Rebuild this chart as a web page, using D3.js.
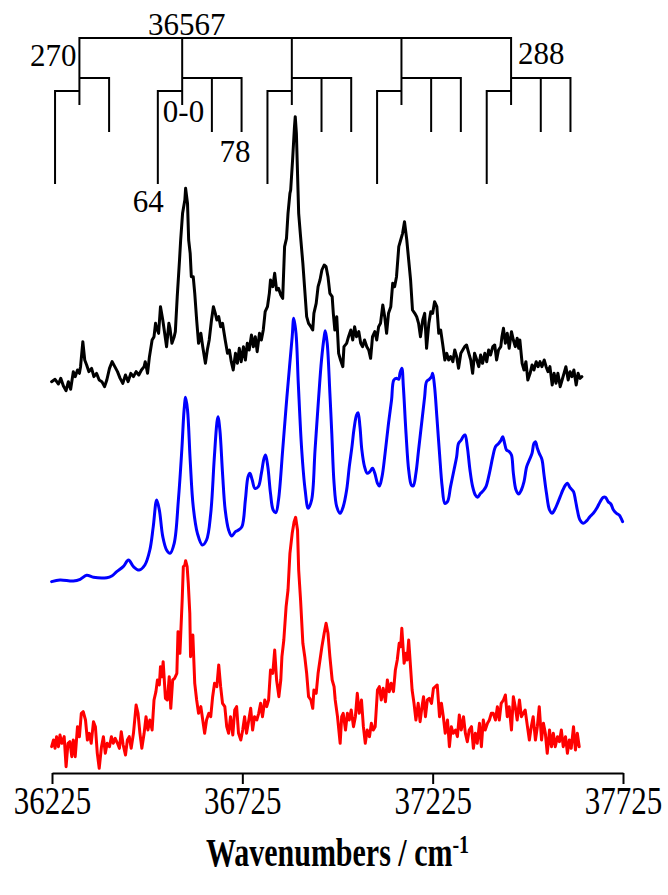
<!DOCTYPE html>
<html>
<head>
<meta charset="utf-8">
<script src="https://cdn.jsdelivr.net/npm/d3@7"></script>
<style>
  html, body { margin: 0; padding: 0; background: #fff; }
  svg { display: block; }
  text { font-family: "Liberation Serif", "Times New Roman", Times, serif; fill: #000; }
</style>
</head>
<body>
<svg id="chart" width="668" height="895"></svg>
<script>
// ---- Axis ----
const axisTicks = [36225, 36725, 37225, 37725];
const axisTitle = "Wavenumbers / cm";
const axisTitleSup = "-1";

// ---- Vibronic assignment ladder (cm-1) ----
const ladderOrigin = 36567;
const ladderShifts = [-270, 0, 288, 576, 864];
const lowerSideband = -64;
const upperSidebands = [[78], [78, 156], [78, 156], [78, 156], [78, 156]];

// ---- Spectra: [wavenumber (cm-1), intensity (a.u.)] ----
const traceOffsets = [1170, 570, 0];          // black, blue, red
const traceColors = ["#000000", "#0000ff", "#ff0000"];

const blackSpectrum = [[36224,4],[36233,11],[36242,-3],[36248,14],[36255,-9],[36262,-23],[36268,4],[36274,-19],[36281,34],[36286,19],[36292,39],[36297,29],[36300,49],[36306,124],[36311,69],[36316,54],[36322,34],[36329,44],[36335,19],[36342,29],[36349,9],[36356,4],[36363,-11],[36369,9],[36376,44],[36383,64],[36390,49],[36397,34],[36404,14],[36411,-1],[36418,24],[36425,4],[36432,29],[36439,19],[36446,34],[36453,24],[36460,39],[36467,49],[36470,64],[36476,29],[36481,79],[36488,129],[36493,139],[36497,179],[36500,164],[36505,149],[36510,229],[36516,189],[36521,149],[36526,109],[36532,179],[36535,164],[36540,119],[36546,139],[36549,154],[36554,259],[36560,369],[36563,429],[36568,509],[36574,549],[36576,584],[36581,539],[36584,429],[36588,389],[36591,319],[36596,319],[36600,269],[36605,189],[36610,119],[36616,149],[36621,109],[36628,59],[36633,99],[36638,129],[36644,189],[36649,229],[36654,209],[36658,189],[36663,199],[36668,169],[36673,179],[36680,129],[36686,89],[36691,99],[36696,64],[36701,39],[36707,89],[36712,59],[36717,104],[36722,64],[36728,109],[36733,69],[36738,119],[36743,99],[36749,144],[36754,109],[36759,139],[36764,94],[36770,149],[36775,129],[36780,159],[36785,214],[36791,229],[36796,269],[36799,309],[36805,289],[36810,329],[36815,279],[36820,284],[36826,264],[36831,254],[36836,409],[36841,434],[36845,509],[36850,569],[36852,579],[36857,669],[36862,769],[36864,799],[36867,749],[36870,629],[36873,509],[36878,439],[36884,359],[36889,279],[36894,199],[36899,179],[36905,169],[36910,159],[36913,209],[36919,239],[36924,289],[36929,309],[36934,339],[36940,354],[36945,349],[36950,319],[36955,269],[36961,259],[36964,209],[36968,159],[36973,199],[36978,89],[36983,69],[36989,49],[36992,109],[36999,119],[37004,139],[37010,159],[37015,129],[37020,169],[37025,139],[37031,154],[37036,119],[37041,109],[37046,129],[37052,109],[37057,99],[37062,74],[37067,139],[37073,154],[37078,129],[37083,169],[37088,179],[37094,234],[37099,199],[37104,149],[37109,209],[37115,229],[37120,299],[37125,289],[37130,319],[37136,409],[37141,429],[37146,449],[37151,484],[37157,429],[37162,369],[37167,309],[37172,219],[37178,209],[37183,199],[37188,179],[37193,139],[37199,189],[37204,209],[37209,104],[37215,179],[37220,214],[37225,209],[37230,244],[37236,229],[37241,149],[37246,159],[37251,119],[37257,69],[37262,89],[37267,69],[37272,79],[37278,64],[37283,99],[37288,79],[37293,44],[37299,89],[37304,99],[37309,109],[37314,114],[37320,89],[37325,69],[37330,29],[37335,89],[37341,69],[37346,49],[37351,84],[37356,59],[37362,89],[37367,64],[37372,99],[37377,84],[37383,109],[37388,114],[37393,69],[37398,99],[37404,109],[37407,139],[37411,164],[37416,119],[37421,149],[37426,104],[37432,154],[37437,129],[37442,109],[37447,134],[37451,104],[37454,129],[37460,59],[37465,39],[37470,64],[37475,9],[37481,29],[37486,54],[37491,39],[37497,64],[37502,49],[37507,64],[37512,49],[37518,69],[37523,49],[37528,34],[37533,49],[37539,-6],[37544,29],[37549,-1],[37554,29],[37560,-11],[37565,9],[37570,29],[37575,49],[37581,9],[37586,34],[37591,19],[37596,39],[37602,-6],[37607,29],[37612,14],[37617,19]];

const blueSpectrum = [[36224,4],[36246,9],[36281,6],[36299,11],[36316,23],[36334,17],[36369,16],[36382,21],[36395,34],[36412,49],[36426,69],[36439,49],[36454,39],[36469,54],[36482,99],[36491,169],[36500,249],[36507,219],[36516,139],[36526,99],[36535,89],[36546,119],[36557,249],[36566,399],[36572,519],[36576,557],[36581,519],[36588,369],[36596,229],[36607,149],[36620,114],[36631,129],[36642,209],[36651,369],[36658,479],[36661,499],[36666,459],[36673,329],[36680,219],[36689,159],[36697,141],[36707,154],[36715,159],[36724,169],[36733,249],[36740,319],[36745,329],[36751,309],[36758,284],[36767,289],[36775,329],[36782,374],[36786,384],[36792,349],[36799,269],[36806,219],[36813,211],[36820,249],[36831,399],[36840,529],[36849,649],[36856,739],[36860,794],[36866,749],[36872,599],[36881,399],[36890,279],[36898,224],[36907,249],[36916,399],[36925,549],[36933,669],[36940,739],[36943,757],[36948,719],[36955,569],[36960,449],[36966,299],[36973,229],[36982,209],[36990,229],[36999,279],[37006,349],[37013,409],[37018,459],[37025,504],[37029,511],[37034,469],[37039,399],[37046,349],[37053,329],[37060,334],[37067,344],[37073,329],[37080,299],[37085,291],[37092,319],[37100,389],[37109,479],[37117,549],[37123,609],[37130,614],[37136,611],[37139,629],[37144,644],[37148,589],[37155,449],[37162,339],[37169,294],[37174,291],[37181,329],[37188,399],[37197,489],[37204,559],[37209,604],[37216,611],[37222,619],[37225,629],[37230,589],[37236,499],[37243,389],[37250,289],[37257,239],[37264,244],[37272,289],[37281,339],[37288,379],[37293,419],[37300,429],[37306,441],[37310,444],[37316,409],[37323,339],[37330,289],[37337,264],[37343,257],[37351,269],[37358,277],[37365,289],[37374,329],[37383,379],[37390,409],[37397,417],[37404,427],[37409,439],[37414,419],[37419,399],[37426,394],[37432,384],[37437,329],[37444,279],[37451,267],[37458,279],[37465,304],[37472,349],[37479,369],[37486,389],[37491,419],[37495,424],[37500,404],[37505,389],[37512,371],[37517,329],[37524,269],[37532,219],[37539,209],[37546,221],[37553,239],[37560,259],[37567,279],[37574,294],[37579,299],[37586,286],[37595,274],[37600,249],[37605,219],[37612,189],[37621,179],[37630,187],[37638,199],[37647,209],[37656,224],[37665,244],[37673,257],[37679,257],[37686,244],[37693,237],[37700,219],[37708,209],[37715,204],[37724,184]];

const redSpectrum = [[36224,79],[36229,99],[36233,74],[36237,109],[36242,79],[36246,114],[36251,89],[36257,109],[36262,19],[36267,89],[36272,94],[36277,49],[36281,99],[36286,49],[36292,139],[36297,109],[36302,179],[36307,184],[36313,159],[36318,99],[36323,119],[36328,89],[36334,154],[36339,139],[36344,59],[36349,14],[36355,79],[36360,109],[36365,59],[36370,89],[36376,79],[36381,109],[36386,89],[36391,104],[36397,89],[36402,74],[36407,124],[36412,84],[36418,54],[36423,99],[36428,109],[36433,74],[36439,119],[36446,204],[36451,179],[36456,119],[36461,74],[36467,119],[36472,169],[36477,129],[36482,159],[36488,129],[36493,219],[36498,244],[36502,279],[36507,264],[36510,319],[36514,289],[36517,334],[36523,224],[36528,219],[36533,289],[36537,194],[36542,279],[36547,284],[36553,299],[36556,424],[36561,359],[36567,519],[36570,619],[36574,624],[36576,637],[36580,619],[36583,569],[36587,479],[36589,349],[36595,414],[36600,269],[36605,219],[36610,179],[36616,199],[36621,159],[36626,119],[36631,159],[36637,179],[36642,169],[36647,229],[36652,269],[36658,259],[36663,324],[36668,259],[36673,209],[36679,199],[36684,139],[36689,119],[36694,169],[36700,114],[36705,189],[36710,199],[36715,119],[36721,99],[36726,129],[36731,169],[36736,119],[36742,159],[36747,194],[36752,129],[36757,169],[36763,159],[36768,179],[36773,209],[36778,169],[36784,219],[36789,199],[36794,219],[36799,309],[36805,299],[36810,369],[36815,279],[36821,229],[36826,279],[36829,349],[36834,399],[36840,499],[36845,549],[36850,659],[36856,719],[36861,754],[36865,767],[36870,729],[36873,609],[36878,519],[36884,389],[36889,349],[36894,299],[36899,229],[36905,219],[36910,194],[36913,249],[36919,239],[36924,299],[36929,339],[36934,379],[36940,419],[36945,449],[36950,419],[36955,349],[36961,279],[36966,259],[36969,219],[36975,169],[36982,89],[36986,169],[36990,179],[36996,129],[37001,179],[37006,159],[37011,189],[37017,139],[37022,169],[37027,239],[37032,179],[37038,219],[37043,139],[37048,89],[37053,129],[37059,109],[37064,149],[37069,129],[37074,139],[37080,249],[37085,259],[37090,219],[37095,254],[37101,214],[37106,279],[37111,244],[37116,269],[37122,244],[37127,309],[37132,339],[37137,389],[37141,379],[37144,434],[37150,329],[37155,359],[37158,339],[37162,399],[37165,349],[37171,249],[37176,209],[37181,159],[37187,209],[37192,154],[37197,199],[37201,229],[37206,169],[37211,219],[37216,224],[37222,209],[37227,254],[37232,259],[37237,264],[37243,169],[37248,209],[37253,169],[37258,119],[37264,159],[37269,79],[37274,139],[37279,119],[37285,129],[37290,109],[37295,174],[37300,129],[37306,169],[37311,119],[37316,94],[37321,129],[37327,139],[37332,74],[37337,119],[37342,89],[37348,149],[37353,79],[37358,159],[37363,129],[37369,149],[37374,159],[37379,179],[37384,179],[37390,159],[37395,199],[37400,159],[37405,209],[37411,219],[37416,234],[37421,169],[37426,199],[37432,129],[37437,229],[37442,199],[37447,159],[37453,219],[37458,169],[37463,179],[37468,189],[37474,139],[37479,99],[37484,139],[37489,169],[37495,99],[37500,139],[37505,199],[37511,99],[37516,149],[37521,119],[37526,59],[37532,129],[37537,79],[37542,119],[37547,79],[37553,109],[37558,94],[37563,129],[37568,79],[37574,109],[37579,59],[37584,99],[37589,74],[37595,139],[37600,69],[37605,119],[37610,79]];

// ---- Layout ----
const W = 668, H = 895;
const plot = { left: 52, right: 623, top: 0, bottom: 773 };
const textStretch = 1.3;   // axis lettering is set in a tall, narrow face

const svg = d3.select("#chart");

const x = d3.scaleLinear()
  .domain([axisTicks[0], axisTicks[axisTicks.length - 1]])
  .range([plot.left, plot.right]);

const y = d3.scaleLinear()
  .domain([0, 2319])
  .range([plot.bottom, plot.top]);

// ---- Spectra ----
const spectra = [blackSpectrum, blueSpectrum, redSpectrum];
const curves = [d3.curveLinear, d3.curveCatmullRom.alpha(0.5), d3.curveLinear];

const traces = svg.append("g").attr("class", "traces");
[2, 1, 0].forEach(i => {
  const line = d3.line()
    .x(d => x(d[0]))
    .y(d => y(d[1] + traceOffsets[i]))
    .curve(curves[i]);
  traces.append("path")
    .datum(spectra[i])
    .attr("d", line)
    .attr("fill", "none")
    .attr("stroke", traceColors[i])
    .attr("stroke-width", 3)
    .attr("stroke-linejoin", "round")
    .attr("stroke-linecap", "round");
});

// ---- X axis ----
const axis = d3.axisBottom(x)
  .tickValues(axisTicks)
  .tickFormat(d3.format("d"))
  .tickSizeInner(11)
  .tickSizeOuter(0)
  .tickPadding(4);

const gAxis = svg.append("g")
  .attr("transform", `translate(0,${plot.bottom})`)
  .call(axis);
gAxis.attr("font-family", null).attr("font-size", null);
gAxis.select(".domain").attr("stroke", "#000").attr("stroke-width", 2);
gAxis.selectAll(".tick line").attr("stroke", "#000").attr("stroke-width", 2);
gAxis.selectAll(".tick text")
  .attr("fill", "#000")
  .attr("y", null)
  .attr("dy", null)
  .attr("transform", `translate(0,41) scale(1,${textStretch})`)
  .style("font-size", "31px");

const title = svg.append("text")
  .attr("transform", `translate(${(plot.left + plot.right) / 2},866) scale(1,${textStretch})`)
  .attr("text-anchor", "middle")
  .style("font-size", "30px")
  .style("font-weight", "bold");
title.append("tspan").text(axisTitle);
title.append("tspan").attr("dy", -10).style("font-size", "20px").text(axisTitleSup);

// ---- Assignment ladder ----
const rows = { top: 38, upper: 78, lower: 91, stub: 105, upperEnd: 132, lowerEnd: 184 };
const vertices = ladderShifts.map(s => ladderOrigin + s);
const ladder = svg.append("g")
  .attr("fill", "none")
  .attr("stroke", "#000")
  .attr("stroke-width", 2)
  .attr("stroke-linejoin", "miter")
  .attr("stroke-linecap", "butt");

const first = vertices[0], last = vertices[vertices.length - 1];
ladder.append("path")
  .attr("d", `M${x(first)},${rows.stub}V${rows.top}H${x(last)}V${rows.stub}`);

vertices.forEach((v, i) => {
  if (i > 0 && i < vertices.length - 1) {
    ladder.append("path").attr("d", `M${x(v)},${rows.top}V${rows.stub}`);
  }
  const ups = upperSidebands[i];
  const far = v + d3.max(ups);
  ladder.append("path").attr("d", `M${x(v)},${rows.upper}H${x(far)}V${rows.upperEnd}`);
  ups.slice(0, -1).forEach(o => {
    ladder.append("path").attr("d", `M${x(v + o)},${rows.upper}V${rows.upperEnd}`);
  });
  ladder.append("path")
    .attr("d", `M${x(v + lowerSideband)},${rows.lowerEnd}V${rows.lower}H${x(v)}`);
});

// ---- Ladder labels ----
const labels = svg.append("g").style("font-size", "31px");
labels.append("text")
  .attr("x", x(ladderOrigin) + 4.5).attr("y", 35)
  .attr("text-anchor", "middle")
  .text(String(ladderOrigin));
labels.append("text")
  .attr("x", x(first) - 3).attr("y", 66)
  .attr("text-anchor", "end")
  .text(String(-ladderShifts[0]));
labels.append("text")
  .attr("x", x(last) + 7).attr("y", 64)
  .attr("text-anchor", "start")
  .text(String(ladderShifts[2]));
labels.append("text")
  .attr("x", x(ladderOrigin + lowerSideband) + 5).attr("y", 122)
  .attr("text-anchor", "start")
  .text("0-0");
labels.append("text")
  .attr("x", x(ladderOrigin + upperSidebands[1][1]) + 9).attr("y", 162)
  .attr("text-anchor", "end")
  .text(String(upperSidebands[1][0]));
labels.append("text")
  .attr("x", x(ladderOrigin + lowerSideband) + 6).attr("y", 212)
  .attr("text-anchor", "end")
  .text(String(-lowerSideband));
</script>
</body>
</html>
